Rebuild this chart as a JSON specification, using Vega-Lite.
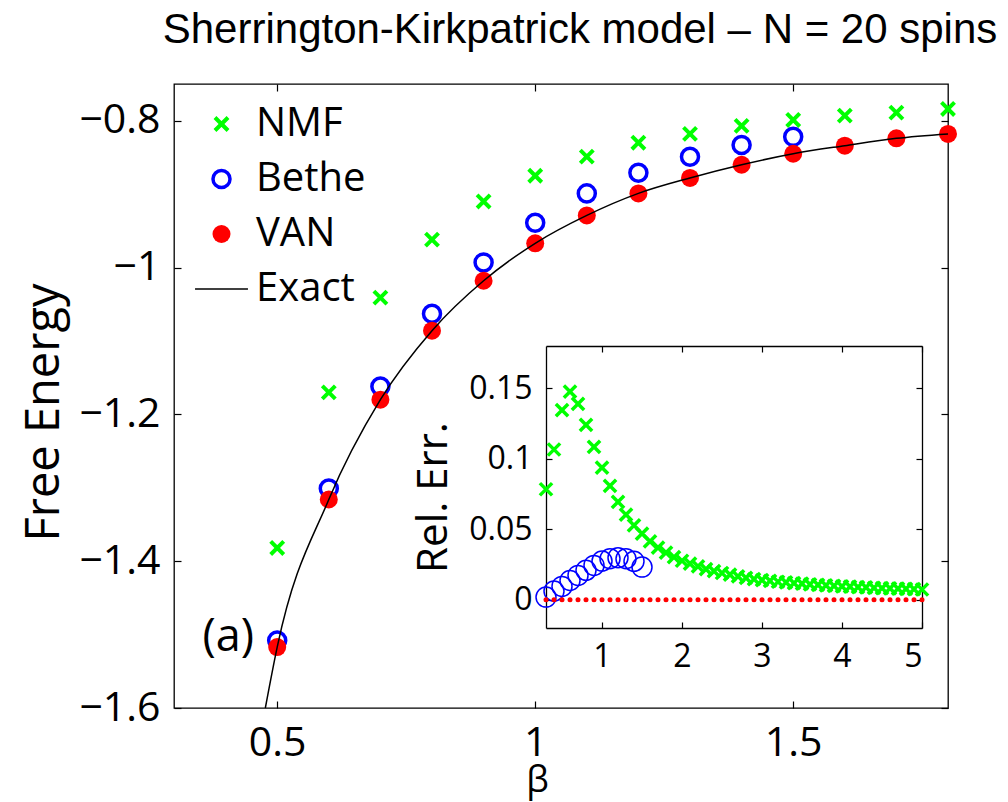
{
 "$schema": "https://vega.github.io/schema/vega-lite/v6.json",
 "width": 774,
 "height": 624,
 "autosize": {"type": "none"},
 "padding": {"left": 174, "top": 84, "right": 60, "bottom": 94},
 "background": "white",
 "title": {"text": "Sherrington-Kirkpatrick model – N = 20 spins", "font": "Liberation Sans", "fontSize": 42, "fontWeight": "normal", "color": "black", "anchor": "middle", "frame": "group", "dx": 19, "offset": -2, "baseline": "alphabetic"},
 "config": {
  "view": {"stroke": "black", "strokeWidth": 1.3},
  "axis": {"grid": false, "labelFont": "Open Sans", "titleFont": "Open Sans", "labelColor": "black", "titleColor": "black", "tickColor": "black", "domainColor": "black", "titleFontWeight": "normal", "tickWidth": 1.2, "domainWidth": 1.3},
  "legend": {"orient": "top-left", "offset": 20, "padding": 0, "labelFont": "Open Sans", "labelFontSize": 40, "labelColor": "black", "labelOffset": 7, "rowPadding": 15, "clipHeight": 40, "labelLimit": 400, "symbolOpacity": 1}
 },
 "datasets": {
  "main": [
   {"beta": 0.5, "series": "NMF", "F": -1.382}, {"beta": 0.6, "series": "NMF", "F": -1.17}, {"beta": 0.7, "series": "NMF", "F": -1.041}, {"beta": 0.8, "series": "NMF", "F": -0.962}, {"beta": 0.9, "series": "NMF", "F": -0.91}, {"beta": 1.0, "series": "NMF", "F": -0.875}, {"beta": 1.1, "series": "NMF", "F": -0.849}, {"beta": 1.2, "series": "NMF", "F": -0.83}, {"beta": 1.3, "series": "NMF", "F": -0.818}, {"beta": 1.4, "series": "NMF", "F": -0.807}, {"beta": 1.5, "series": "NMF", "F": -0.799}, {"beta": 1.6, "series": "NMF", "F": -0.793}, {"beta": 1.7, "series": "NMF", "F": -0.789}, {"beta": 1.8, "series": "NMF", "F": -0.784},
   {"beta": 0.5, "series": "Bethe", "F": -1.508}, {"beta": 0.6, "series": "Bethe", "F": -1.301}, {"beta": 0.7, "series": "Bethe", "F": -1.162}, {"beta": 0.8, "series": "Bethe", "F": -1.063}, {"beta": 0.9, "series": "Bethe", "F": -0.993}, {"beta": 1.0, "series": "Bethe", "F": -0.939}, {"beta": 1.1, "series": "Bethe", "F": -0.899}, {"beta": 1.2, "series": "Bethe", "F": -0.871}, {"beta": 1.3, "series": "Bethe", "F": -0.849}, {"beta": 1.4, "series": "Bethe", "F": -0.833}, {"beta": 1.5, "series": "Bethe", "F": -0.822},
   {"beta": 0.5, "series": "VAN", "F": -1.517}, {"beta": 0.6, "series": "VAN", "F": -1.316}, {"beta": 0.7, "series": "VAN", "F": -1.18}, {"beta": 0.8, "series": "VAN", "F": -1.086}, {"beta": 0.9, "series": "VAN", "F": -1.018}, {"beta": 1.0, "series": "VAN", "F": -0.967}, {"beta": 1.1, "series": "VAN", "F": -0.929}, {"beta": 1.2, "series": "VAN", "F": -0.899}, {"beta": 1.3, "series": "VAN", "F": -0.878}, {"beta": 1.4, "series": "VAN", "F": -0.86}, {"beta": 1.5, "series": "VAN", "F": -0.845}, {"beta": 1.6, "series": "VAN", "F": -0.834}, {"beta": 1.7, "series": "VAN", "F": -0.824}, {"beta": 1.8, "series": "VAN", "F": -0.818}
  ],
  "exact": [
   {"beta": 0.477, "F": -1.6}, {"beta": 0.5, "F": -1.517}, {"beta": 0.6, "F": -1.316}, {"beta": 0.7, "F": -1.18}, {"beta": 0.8, "F": -1.086}, {"beta": 0.9, "F": -1.018}, {"beta": 1.0, "F": -0.967}, {"beta": 1.1, "F": -0.929}, {"beta": 1.2, "F": -0.899}, {"beta": 1.3, "F": -0.878}, {"beta": 1.4, "F": -0.86}, {"beta": 1.5, "F": -0.845}, {"beta": 1.6, "F": -0.834}, {"beta": 1.7, "F": -0.824}, {"beta": 1.8, "F": -0.818}
  ],
  "annot": [{"beta": 0.405, "F": -1.503, "label": "(a)"}],
  "inset": [
   {"beta": 0.3, "series": "NMF", "err": 0.0784}, {"beta": 0.4, "series": "NMF", "err": 0.1066}, {"beta": 0.5, "series": "NMF", "err": 0.1346}, {"beta": 0.6, "series": "NMF", "err": 0.1476}, {"beta": 0.7, "series": "NMF", "err": 0.139}, {"beta": 0.8, "series": "NMF", "err": 0.124}, {"beta": 0.9, "series": "NMF", "err": 0.1085}, {"beta": 1.0, "series": "NMF", "err": 0.0938}, {"beta": 1.1, "series": "NMF", "err": 0.0808}, {"beta": 1.2, "series": "NMF", "err": 0.0694}, {"beta": 1.3, "series": "NMF", "err": 0.0604}, {"beta": 1.4, "series": "NMF", "err": 0.0528}, {"beta": 1.5, "series": "NMF", "err": 0.0469}, {"beta": 1.6, "series": "NMF", "err": 0.0415}, {"beta": 1.7, "series": "NMF", "err": 0.037}, {"beta": 1.8, "series": "NMF", "err": 0.0334}, {"beta": 1.9, "series": "NMF", "err": 0.0303}, {"beta": 2.0, "series": "NMF", "err": 0.0277}, {"beta": 2.1, "series": "NMF", "err": 0.0256}, {"beta": 2.2, "series": "NMF", "err": 0.0237}, {"beta": 2.3, "series": "NMF", "err": 0.0218}, {"beta": 2.4, "series": "NMF", "err": 0.0204}, {"beta": 2.5, "series": "NMF", "err": 0.019}, {"beta": 2.6, "series": "NMF", "err": 0.0178}, {"beta": 2.7, "series": "NMF", "err": 0.0166}, {"beta": 2.8, "series": "NMF", "err": 0.0156}, {"beta": 2.9, "series": "NMF", "err": 0.0147}, {"beta": 3.0, "series": "NMF", "err": 0.014}, {"beta": 3.1, "series": "NMF", "err": 0.0134}, {"beta": 3.2, "series": "NMF", "err": 0.0128}, {"beta": 3.3, "series": "NMF", "err": 0.0123}, {"beta": 3.4, "series": "NMF", "err": 0.0118}, {"beta": 3.5, "series": "NMF", "err": 0.0114}, {"beta": 3.6, "series": "NMF", "err": 0.011}, {"beta": 3.7, "series": "NMF", "err": 0.0106}, {"beta": 3.8, "series": "NMF", "err": 0.0102}, {"beta": 3.9, "series": "NMF", "err": 0.0099}, {"beta": 4.0, "series": "NMF", "err": 0.0096}, {"beta": 4.1, "series": "NMF", "err": 0.0093}, {"beta": 4.2, "series": "NMF", "err": 0.009}, {"beta": 4.3, "series": "NMF", "err": 0.0088}, {"beta": 4.4, "series": "NMF", "err": 0.0085}, {"beta": 4.5, "series": "NMF", "err": 0.0083}, {"beta": 4.6, "series": "NMF", "err": 0.0081}, {"beta": 4.7, "series": "NMF", "err": 0.0079}, {"beta": 4.8, "series": "NMF", "err": 0.0077}, {"beta": 4.9, "series": "NMF", "err": 0.0075}, {"beta": 5.0, "series": "NMF", "err": 0.0073},
   {"beta": 0.3, "series": "Bethe", "err": 0.0019}, {"beta": 0.4, "series": "Bethe", "err": 0.0062}, {"beta": 0.5, "series": "Bethe", "err": 0.0095}, {"beta": 0.6, "series": "Bethe", "err": 0.0137}, {"beta": 0.7, "series": "Bethe", "err": 0.0173}, {"beta": 0.8, "series": "Bethe", "err": 0.0209}, {"beta": 0.9, "series": "Bethe", "err": 0.0244}, {"beta": 1.0, "series": "Bethe", "err": 0.0275}, {"beta": 1.1, "series": "Bethe", "err": 0.0291}, {"beta": 1.2, "series": "Bethe", "err": 0.0299}, {"beta": 1.3, "series": "Bethe", "err": 0.0291}, {"beta": 1.4, "series": "Bethe", "err": 0.0273}, {"beta": 1.5, "series": "Bethe", "err": 0.0232},
   {"beta": 0.3, "series": "VAN", "err": 0}, {"beta": 0.4, "series": "VAN", "err": 0}, {"beta": 0.5, "series": "VAN", "err": 0}, {"beta": 0.6, "series": "VAN", "err": 0}, {"beta": 0.7, "series": "VAN", "err": 0}, {"beta": 0.8, "series": "VAN", "err": 0}, {"beta": 0.9, "series": "VAN", "err": 0}, {"beta": 1.0, "series": "VAN", "err": 0}, {"beta": 1.1, "series": "VAN", "err": 0}, {"beta": 1.2, "series": "VAN", "err": 0}, {"beta": 1.3, "series": "VAN", "err": 0}, {"beta": 1.4, "series": "VAN", "err": 0}, {"beta": 1.5, "series": "VAN", "err": 0}, {"beta": 1.6, "series": "VAN", "err": 0}, {"beta": 1.7, "series": "VAN", "err": 0}, {"beta": 1.8, "series": "VAN", "err": 0}, {"beta": 1.9, "series": "VAN", "err": 0}, {"beta": 2.0, "series": "VAN", "err": 0}, {"beta": 2.1, "series": "VAN", "err": 0}, {"beta": 2.2, "series": "VAN", "err": 0}, {"beta": 2.3, "series": "VAN", "err": 0}, {"beta": 2.4, "series": "VAN", "err": 0}, {"beta": 2.5, "series": "VAN", "err": 0}, {"beta": 2.6, "series": "VAN", "err": 0}, {"beta": 2.7, "series": "VAN", "err": 0}, {"beta": 2.8, "series": "VAN", "err": 0}, {"beta": 2.9, "series": "VAN", "err": 0}, {"beta": 3.0, "series": "VAN", "err": 0}, {"beta": 3.1, "series": "VAN", "err": 0}, {"beta": 3.2, "series": "VAN", "err": 0}, {"beta": 3.3, "series": "VAN", "err": 0}, {"beta": 3.4, "series": "VAN", "err": 0}, {"beta": 3.5, "series": "VAN", "err": 0}, {"beta": 3.6, "series": "VAN", "err": 0}, {"beta": 3.7, "series": "VAN", "err": 0}, {"beta": 3.8, "series": "VAN", "err": 0}, {"beta": 3.9, "series": "VAN", "err": 0}, {"beta": 4.0, "series": "VAN", "err": 0}, {"beta": 4.1, "series": "VAN", "err": 0}, {"beta": 4.2, "series": "VAN", "err": 0}, {"beta": 4.3, "series": "VAN", "err": 0}, {"beta": 4.4, "series": "VAN", "err": 0}, {"beta": 4.5, "series": "VAN", "err": 0}, {"beta": 4.6, "series": "VAN", "err": 0}, {"beta": 4.7, "series": "VAN", "err": 0}, {"beta": 4.8, "series": "VAN", "err": 0}, {"beta": 4.9, "series": "VAN", "err": 0}, {"beta": 5.0, "series": "VAN", "err": 0}
  ]
 },
 "resolve": {"scale": {"x": "independent", "y": "independent"}, "axis": {"x": "independent", "y": "independent"}},
 "layer": [
  {
   "data": {"name": "main"},
   "mark": {"type": "point", "opacity": 1},
   "encoding": {
    "x": {"field": "beta", "type": "quantitative", "scale": {"domain": [0.3, 1.8], "nice": false, "zero": false}, "axis": {"orient": "top", "values": [0.5, 1, 1.5], "labels": false, "title": null, "domain": false, "tickSize": -7}},
    "y": {"field": "F", "type": "quantitative", "scale": {"domain": [-1.6, -0.75], "nice": false, "zero": false}, "axis": {"orient": "right", "values": [-1.6, -1.4, -1.2, -1, -0.8], "labels": false, "title": null, "domain": false, "tickSize": -7}},
    "shape": {"field": "series", "type": "nominal", "scale": {"domain": ["NMF", "Bethe", "VAN", "Exact"], "range": ["M-1,-1L1,1M-1,1L1,-1", "circle", "circle", "stroke"]}, "legend": {"title": null}},
    "stroke": {"field": "series", "type": "nominal", "scale": {"domain": ["NMF", "Bethe", "VAN", "Exact"], "range": ["#00ff00", "#0000ff", "#ff0000", "#000000"]}, "legend": {"title": null}},
    "fill": {"field": "series", "type": "nominal", "scale": {"domain": ["NMF", "Bethe", "VAN", "Exact"], "range": ["transparent", "transparent", "#ff0000", "transparent"]}, "legend": {"title": null}},
    "size": {"field": "series", "type": "nominal", "scale": {"type": "ordinal", "domain": ["NMF", "Bethe", "VAN", "Exact"], "range": [170, 290, 324, 2800]}, "legend": {"title": null}},
    "strokeWidth": {"field": "series", "type": "nominal", "scale": {"type": "ordinal", "domain": ["NMF", "Bethe", "VAN", "Exact"], "range": [4, 3.5, 0, 1.5]}, "legend": {"title": null}}
   }
  },
  {
   "data": {"name": "exact"},
   "mark": {"type": "line", "color": "black", "strokeWidth": 1.5, "interpolate": "monotone"},
   "encoding": {
    "x": {"field": "beta", "type": "quantitative", "scale": {"domain": [0.3, 1.8], "nice": false, "zero": false}, "axis": {"orient": "bottom", "values": [0.5, 1, 1.5], "format": "~g", "title": "β", "labelFontSize": 41, "titleFontSize": 36, "titleX": 363, "tickSize": -7, "labelPadding": 22, "titlePadding": 0, "domain": false}},
    "y": {"field": "F", "type": "quantitative", "scale": {"domain": [-1.6, -0.75], "nice": false, "zero": false}, "axis": {"orient": "left", "values": [-1.6, -1.4, -1.2, -1, -0.8], "format": "~g", "title": "Free Energy", "labelFontSize": 41, "titleFontSize": 47, "titleY": 328, "tickSize": -7, "labelPadding": 21, "titlePadding": 10, "domain": false}}
   }
  },
  {
   "data": {"name": "annot"},
   "mark": {"type": "text", "font": "Open Sans", "fontSize": 45, "align": "center", "baseline": "middle", "color": "black"},
   "encoding": {
    "x": {"field": "beta", "type": "quantitative", "scale": {"domain": [0.3, 1.8], "nice": false, "zero": false}, "axis": null},
    "y": {"field": "F", "type": "quantitative", "scale": {"domain": [-1.6, -0.75], "nice": false, "zero": false}, "axis": null},
    "text": {"field": "label"}
   }
  },
  {
   "data": {"name": "inset"},
   "transform": [{"filter": "datum.series === 'NMF'"}],
   "mark": {"type": "point", "shape": "M-1,-1L1,1M-1,1L1,-1", "filled": false, "stroke": "#00ff00", "strokeWidth": 3.5, "size": 150, "opacity": 1},
   "encoding": {
    "x": {"field": "beta", "type": "quantitative", "scale": {"domain": [0.3, 5], "range": [372, 748], "nice": false, "zero": false}, "axis": {"orient": "bottom", "offset": -80, "values": [1, 2, 3, 4, 5], "format": "~g", "title": null, "labelFontSize": 32, "tickSize": -6, "labelPadding": 19, "domain": true}},
    "y": {"field": "err", "type": "quantitative", "scale": {"domain": [-0.02, 0.18], "range": [544, 262], "nice": false, "zero": false}, "axis": {"orient": "left", "offset": -372, "values": [0, 0.05, 0.1, 0.15], "format": "~g", "title": "Rel. Err.", "labelFontSize": 32, "titleFontSize": 42, "titleY": 413, "tickSize": -6, "labelPadding": 20, "titlePadding": 13, "domain": true}}
   }
  },
  {
   "data": {"name": "inset"},
   "transform": [{"filter": "datum.series === 'Bethe'"}],
   "mark": {"type": "point", "shape": "circle", "filled": false, "stroke": "#0000ff", "strokeWidth": 1.5, "size": 400, "opacity": 1},
   "encoding": {
    "x": {"field": "beta", "type": "quantitative", "scale": {"domain": [0.3, 5], "range": [372, 748], "nice": false, "zero": false}, "axis": {"orient": "top", "offset": -262, "values": [1, 2, 3, 4, 5], "labels": false, "title": null, "tickSize": -6, "domain": true}},
    "y": {"field": "err", "type": "quantitative", "scale": {"domain": [-0.02, 0.18], "range": [544, 262], "nice": false, "zero": false}, "axis": {"orient": "right", "offset": -26, "values": [0, 0.05, 0.1, 0.15], "labels": false, "title": null, "tickSize": -6, "domain": true}}
   }
  },
  {
   "data": {"name": "inset"},
   "transform": [{"filter": "datum.series === 'VAN'"}],
   "mark": {"type": "point", "shape": "circle", "filled": true, "color": "#ff0000", "size": 25, "opacity": 1},
   "encoding": {
    "x": {"field": "beta", "type": "quantitative", "scale": {"domain": [0.3, 5], "range": [372, 748], "nice": false, "zero": false}, "axis": null},
    "y": {"field": "err", "type": "quantitative", "scale": {"domain": [-0.02, 0.18], "range": [544, 262], "nice": false, "zero": false}, "axis": null}
   }
  }
 ]
}
